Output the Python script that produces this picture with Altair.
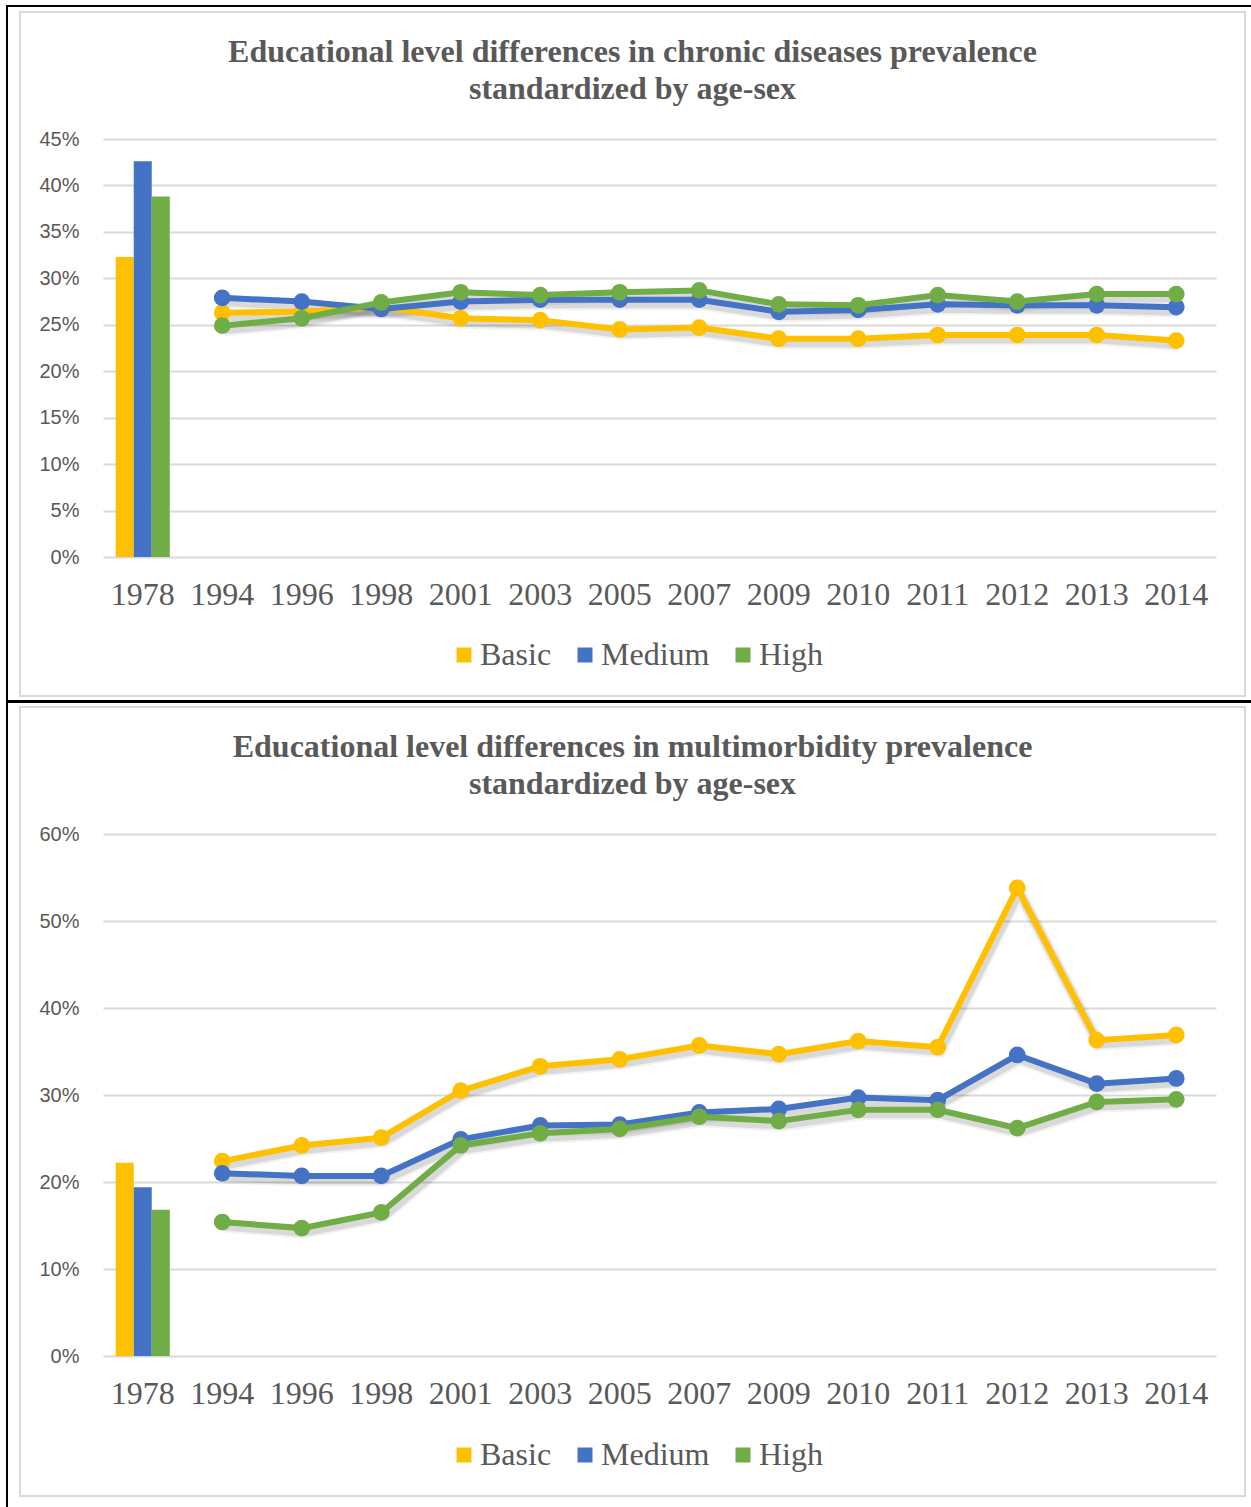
import altair as alt
import pandas as pd

# ---- data -------------------------------------------------------------
years = ["1978", "1994", "1996", "1998", "2001", "2003", "2005",
         "2007", "2009", "2010", "2011", "2012", "2013", "2014"]
levels = ["Basic", "Medium", "High"]
level_colors = ["#FFC000", "#4472C4", "#70AD47"]

# chronic diseases prevalence (%), standardized by age-sex
chronic_basic = [32.3, 26.3, 26.4, 26.9, 25.7, 25.5, 24.5, 24.7, 23.5, 23.5, 23.9, 23.9, 23.9, 23.3]
chronic_medium = [42.6, 27.9, 27.5, 26.7, 27.5, 27.7, 27.7, 27.7, 26.4, 26.6, 27.2, 27.1, 27.1, 26.9]
chronic_high = [38.8, 24.9, 25.7, 27.4, 28.5, 28.2, 28.5, 28.7, 27.2, 27.1, 28.2, 27.5, 28.3, 28.3]

# multimorbidity prevalence (%), standardized by age-sex
multi_basic = [22.2, 22.4, 24.2, 25.1, 30.5, 33.3, 34.1, 35.7, 34.7, 36.2, 35.5, 53.8, 36.3, 36.9]
multi_medium = [19.4, 21.0, 20.7, 20.7, 24.9, 26.5, 26.6, 28.0, 28.4, 29.7, 29.4, 34.6, 31.3, 31.9]
multi_high = [16.8, 15.4, 14.7, 16.5, 24.2, 25.6, 26.1, 27.5, 27.0, 28.3, 28.3, 26.2, 29.2, 29.5]

chronic_ticks = [0, 5, 10, 15, 20, 25, 30, 35, 40, 45]
multi_ticks = [0, 10, 20, 30, 40, 50, 60]

SERIF = "Liberation Serif"
SANS = "Liberation Sans"
GREY = "#595959"
GRID = "#d9d9d9"
PLOT_W = 1113


def long_table(basic, medium, high):
    rows = []
    for lvl, vals in zip(levels, [basic, medium, high]):
        for yr, v in zip(years, vals):
            rows.append({"year": yr, "level": lvl, "value": v / 100})
    return pd.DataFrame(rows)


one = pd.DataFrame({"k": [0]})


def frame_layers(top_rule, left_bottom, box_bottom):
    """Black page rules plus the light grey chart-area box."""
    top = alt.Chart(one).mark_rect(color="black").encode(
        x=alt.value(-97), x2=alt.value(1148),
        y=alt.value(-134), y2=alt.value(-134 + top_rule))
    left = alt.Chart(one).mark_rect(color="black").encode(
        x=alt.value(-97), x2=alt.value(-95),
        y=alt.value(-134), y2=alt.value(left_bottom))
    box = alt.Chart(one).mark_rect(fillOpacity=0, stroke=GRID, strokeWidth=2).encode(
        x=alt.value(-83), x2=alt.value(1142),
        y=alt.value(-127), y2=alt.value(box_bottom))
    return [box, top, left]


def title_layers(line1, line2):
    out = []
    for txt, ypos in [(line1, -87), (line2, -50)]:
        out.append(alt.Chart(one).mark_text(
            text=txt, font=SERIF, fontSize=32, fontWeight="bold", color=GREY,
            align="center", baseline="middle").encode(
            x=alt.value(529.5), y=alt.value(ypos)))
    return out


def panel(df, line1, line2, ticks, height, top_rule, left_bottom, box_bottom, legend_y):
    ymax = ticks[-1] / 100
    x_scale = alt.Scale(domain=years, paddingInner=0.32, paddingOuter=0.16)
    y_scale = alt.Scale(domain=[0, ymax], nice=False)
    x_axis = alt.Axis(title=None, ticks=False, domain=False, grid=False, labelAngle=0,
                      labelFont=SERIF, labelFontSize=32, labelColor=GREY, labelPadding=22)
    y_axis = alt.Axis(title=None, format=".0%", values=[t / 100 for t in ticks],
                      ticks=False, domain=False, grid=True, gridColor=GRID, gridWidth=2,
                      labelFont=SANS, labelFontSize=20, labelColor=GREY, labelPadding=24)
    X = alt.X("year:N", scale=x_scale, axis=x_axis, sort=years)
    Y = alt.Y("value:Q", scale=y_scale, axis=y_axis)

    bars = alt.Chart(df).transform_filter(alt.datum.year == "1978").mark_bar().encode(
        x=X,
        xOffset=alt.XOffset("level:N", sort=levels, scale=alt.Scale(domain=levels)),
        y=Y,
        color=alt.Color(
            "level:N", sort=levels,
            scale=alt.Scale(domain=levels, range=level_colors),
            legend=alt.Legend(
                title=None, orient="none", legendX=345, legendY=legend_y,
                direction="horizontal", symbolType="square", symbolSize=225,
                symbolStrokeWidth=0, labelFont=SERIF, labelFontSize=32,
                labelColor=GREY, labelOffset=0, columnPadding=17)),
    )

    series = alt.Chart(df).transform_filter(alt.datum.year != "1978")
    # soft drop shadow under the lines
    shadows = []
    for w, op in [(13, 0.05), (9, 0.10)]:
        shadows.append(series.mark_line(color="black", strokeWidth=w, opacity=op,
                                        xOffset=2, yOffset=4).encode(
            x=X, y=Y, detail="level:N"))

    layers = (frame_layers(top_rule, left_bottom, box_bottom)
              + title_layers(line1, line2) + [bars] + shadows)
    for lvl, col in zip(levels, level_colors):
        base = series.transform_filter(alt.datum.level == lvl)
        layers.append(base.mark_line(color=col, strokeWidth=6).encode(x=X, y=Y))
        layers.append(base.mark_point(filled=True, shape="circle", size=280,
                                      color=col, opacity=1).encode(x=X, y=Y))
    return alt.layer(*layers).properties(width=PLOT_W, height=height)


chronic = panel(long_table(chronic_basic, chronic_medium, chronic_high),
                "Educational level differences in chronic diseases prevalence",
                "standardized by age-sex",
                chronic_ticks, 418, 2, 561, 557, 500)
multi = panel(long_table(multi_basic, multi_medium, multi_high),
              "Educational level differences in multimorbidity prevalence",
              "standardized by age-sex",
              multi_ticks, 522, 3, 673, 662, 605)

chart = alt.vconcat(chronic, multi, spacing=0).resolve_scale(
    color="independent", x="independent", y="independent"
).resolve_legend(color="independent").properties(
    padding={"left": 6, "top": 5, "right": 0, "bottom": 0},
    background="white",
).configure_view(stroke=None)

chart.save("out.html", embed_options={"renderer": "svg", "actions": False})
